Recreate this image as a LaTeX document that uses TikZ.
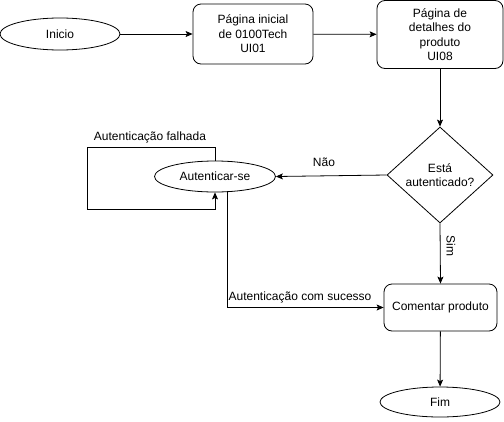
\documentclass[tikz,border=0pt]{standalone}
\usepackage{fontspec}
\setmainfont{Liberation Sans}
\usetikzlibrary{shapes.geometric,arrows.meta}
\begin{document}
\begin{tikzpicture}[x=1pt,y=-1pt,
  every node/.style={font=\fontsize{12}{14.5}\selectfont, inner sep=0pt},
  oval/.style={draw, ellipse, line width=0.8pt, fill=white},
  rbox/.style={draw, rounded corners=8pt, line width=0.8pt, fill=white, align=center},
  dec/.style={draw, diamond, line width=0.8pt, fill=white, align=center},
  link/.style={line width=0.8pt, -{Stealth[length=7pt,width=6pt,inset=1.5pt]}},
  lbl/.style={fill=none}]
\useasboundingbox (0,0) rectangle (504,421);
\node[oval, minimum width=120pt, minimum height=32pt] (ini) at (60,34) {Inicio};
\node[rbox, minimum width=120pt, minimum height=60pt] (p1) at (253,34) {Página inicial\\de 0100Tech\\UI01};
\node[rbox, minimum width=126pt, minimum height=68pt] (p2) at (440,34.5) {Página de\\detalhes do\\produto\\UI08};
\node[dec, minimum width=106pt, minimum height=96pt] (d) at (440,175) {Está\\autenticado?};
\node[oval, minimum width=121pt, minimum height=31pt] (auth) at (215,176.5) {Autenticar-se};
\node[rbox, minimum width=113pt, minimum height=47pt] (com) at (440.5,307.5) {Comentar produto};
\node[oval, minimum width=120pt, minimum height=30pt] (fim) at (440,402) {Fim};
\coordinate (l1) at (87,147);
\coordinate (l2) at (87,209);
\coordinate (s0) at (227,191.3);
\draw[link] (ini) -- (p1);
\draw[link] (p1) -- (p2);
\draw[link] (p2) -- (d);
\draw[link] (d.west) -- (auth.east);
\draw[link] (d.south) -- (com.north);
\draw[link] (com) -- (fim);
\draw[link] (auth.north) |- (l1) |- (l2 -| auth.south) -- (auth.south);
\draw[link] (s0) |- (com.west);
\node[lbl] (nao) at (324,162) {Não};
\node[lbl, rotate=-90] (sim) at (451,246) {Sim};
\node[lbl] (falha) at (150,137) {Autenticação falhada};
\node[lbl] (suc) at (300,297) {Autenticação com sucesso};
\end{tikzpicture}
\end{document}
